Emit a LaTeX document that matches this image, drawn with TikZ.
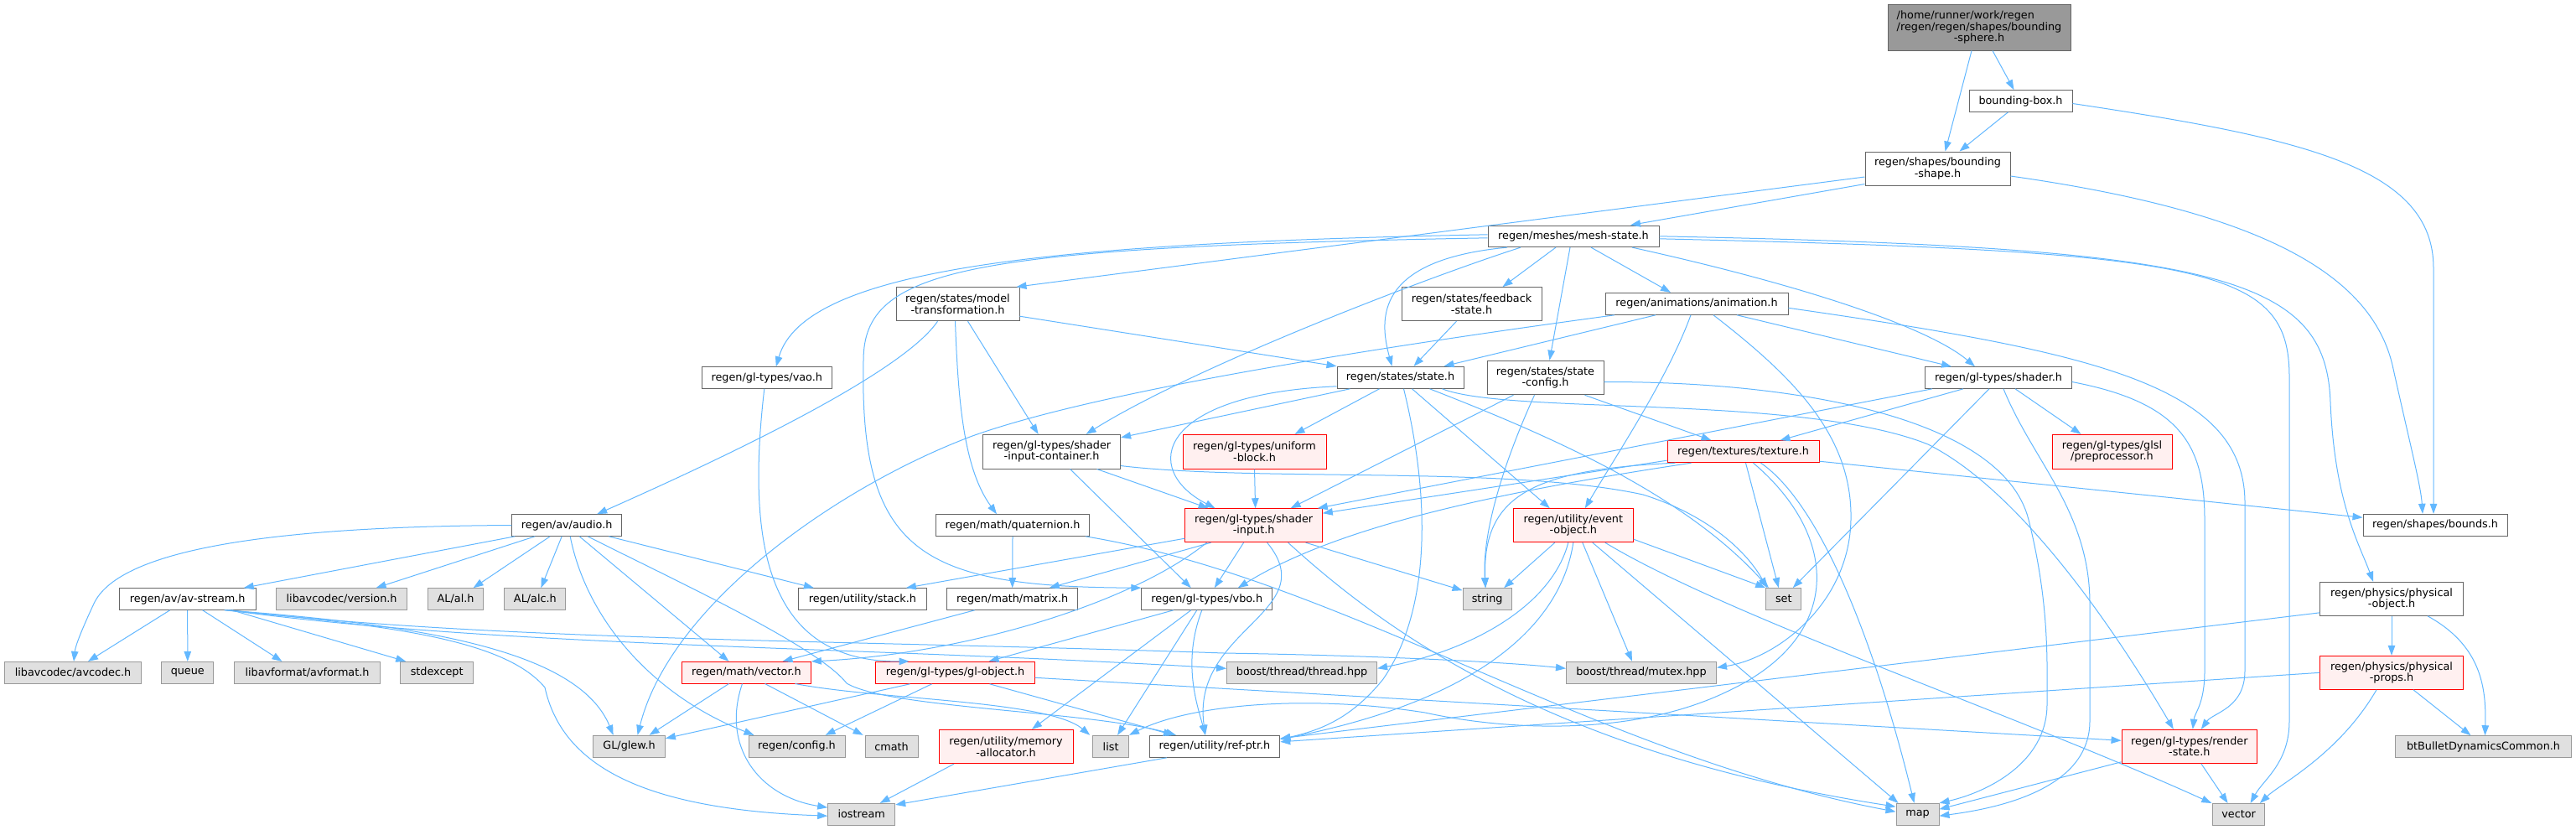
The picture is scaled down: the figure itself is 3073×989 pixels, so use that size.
\documentclass[tikz,border=0pt]{standalone}
\usepackage{fontspec}
\setmainfont{DejaVu Sans}
\usetikzlibrary{arrows.meta}
\definecolor{edgec}{HTML}{63B8FF}
\definecolor{wbord}{HTML}{666666}
\definecolor{gbord}{HTML}{999999}
\definecolor{gfill}{HTML}{E0E0E0}
\definecolor{rfill}{HTML}{FFF0F0}
\definecolor{rbord}{HTML}{FF0000}
\definecolor{rootfill}{HTML}{999999}
\tikzset{
 nd/.style={draw, rectangle, inner sep=0pt, align=center, line width=1pt, text=black},
 wn/.style={nd, draw=wbord, fill=white},
 gn/.style={nd, draw=gbord, fill=gfill},
 rn/.style={nd, draw=rbord, fill=rfill},
 rootn/.style={nd, draw=wbord, fill=rootfill},
 edg/.style={draw=edgec, line width=1pt, -{Triangle[length=12pt,width=8.5pt]}},
}
\begin{document}
\begin{tikzpicture}[x=1pt,y=-1pt,font=\fontsize{12.8}{13.5}\selectfont]
\fill[white] (0,0) rectangle (3073,989);
\useasboundingbox (0,0) rectangle (3073,989);
% ---------- nodes ----------
\node[rootn,minimum width=218pt,minimum height=55pt] (root) at (2361,32.5) {\rlap{/home/runner/work/regen}\phantom{/regen/regen/shapes/bounding}\\/regen/regen/shapes/bounding\\-sphere.h};
\node[wn,minimum width=123pt,minimum height=25.6pt] (bbox) at (2410.5,120.5) {bounding-box.h};
\node[wn,minimum width=173pt,minimum height=40pt] (bshape) at (2311.5,201) {regen/shapes/bounding\\-shape.h};
\node[wn,minimum width=204pt,minimum height=25.6pt] (meshstate) at (1877,281.8) {regen/meshes/mesh-state.h};
\node[wn,minimum width=147pt,minimum height=40pt] (modeltf) at (1142.5,362.7) {regen/states/model\\-transformation.h};
\node[wn,minimum width=167pt,minimum height=40pt] (feedback) at (1755.5,362.7) {regen/states/feedback\\-state.h};
\node[wn,minimum width=218pt,minimum height=26pt] (anim) at (2024,362.3) {regen/animations/animation.h};
\node[wn,minimum width=151pt,minimum height=26pt] (state) at (1670.5,450.3) {regen/states/state.h};
\node[wn,minimum width=139pt,minimum height=40.5pt] (stateconfig) at (1843.5,450.5) {regen/states/state\\-config.h};
\node[wn,minimum width=174.5pt,minimum height=25.6pt] (shader) at (2384,450.5) {regen/gl-types/shader.h};
\node[wn,minimum width=155.6pt,minimum height=25.6pt] (vao) at (914.8,450.5) {regen/gl-types/vao.h};
\node[wn,minimum width=164pt,minimum height=40.7pt] (sic) at (1254.6,538.7) {regen/gl-types/shader\\-input-container.h};
\node[rn,minimum width=171pt,minimum height=40.7pt] (ublock) at (1496.5,538.7) {regen/gl-types/uniform\\-block.h};
\node[rn,minimum width=181pt,minimum height=26pt] (texture) at (2079.5,538.7) {regen/textures/texture.h};
\node[rn,minimum width=143pt,minimum height=40.7pt] (glsl) at (2519.5,538.7) {regen/gl-types/glsl\\/preprocessor.h};
\node[wn,minimum width=172pt,minimum height=26pt] (bounds) at (2905,626.3) {regen/shapes/bounds.h};
\node[wn,minimum width=130.5pt,minimum height=25.6pt] (audio) at (676.2,626.5) {regen/av/audio.h};
\node[wn,minimum width=183pt,minimum height=25.6pt] (quat) at (1208,626.5) {regen/math/quaternion.h};
\node[rn,minimum width=163.4pt,minimum height=40pt] (sinput) at (1495.6,626.7) {regen/gl-types/shader\\-input.h};
\node[rn,minimum width=143pt,minimum height=40pt] (eventobj) at (1876.8,626.7) {regen/utility/event\\-object.h};
\node[wn,minimum width=162.6pt,minimum height=25.6pt] (avstream) at (223.7,714.5) {regen/av/av-stream.h};
\node[gn,minimum width=155.7pt,minimum height=25.6pt] (avver) at (407.6,714.5) {libavcodec/version.h};
\node[gn,minimum width=66pt,minimum height=25.6pt] (al) at (543.6,714.5) {AL/al.h};
\node[gn,minimum width=73pt,minimum height=25.6pt] (alc) at (638.4,714.5) {AL/alc.h};
\node[wn,minimum width=152.6pt,minimum height=25.6pt] (stack) at (1028.9,714.5) {regen/utility/stack.h};
\node[wn,minimum width=155.7pt,minimum height=25.6pt] (matrix) at (1207.7,714.5) {regen/math/matrix.h};
\node[wn,minimum width=155.7pt,minimum height=25.6pt] (vbo) at (1439.8,714.5) {regen/gl-types/vbo.h};
\node[gn,minimum width=58.2pt,minimum height=25.6pt] (string) at (1774.1,714.5) {string};
\node[gn,minimum width=42.3pt,minimum height=25.6pt] (set) at (2127.8,714.4) {set};
\node[wn,minimum width=170.4pt,minimum height=40pt] (physobj) at (2853,714.3) {regen/physics/physical\\-object.h};
\node[rn,minimum width=170.4pt,minimum height=40pt] (physprops) at (2853,802.3) {regen/physics/physical\\-props.h};
\node[gn,minimum width=179pt,minimum height=26pt] (thread) at (1553.1,802.3) {boost/thread/thread.hpp};
\node[gn,minimum width=179pt,minimum height=26pt] (mutex) at (1958,802.3) {boost/thread/mutex.hpp};
\node[gn,minimum width=162.8pt,minimum height=25.6pt] (libavcodec) at (87,802.2) {libavcodec/avcodec.h};
\node[gn,minimum width=61.7pt,minimum height=25.6pt] (queue) at (223.8,802.2) {queue};
\node[gn,minimum width=174.7pt,minimum height=25.6pt] (avformat) at (366.5,802.2) {libavformat/avformat.h};
\node[gn,minimum width=87pt,minimum height=25.6pt] (stdexcept) at (521.2,802.2) {stdexcept};
\node[rn,minimum width=153.7pt,minimum height=25.6pt] (mvector) at (890.5,802.2) {regen/math/vector.h};
\node[rn,minimum width=189.3pt,minimum height=26pt] (globj) at (1139.6,802.3) {regen/gl-types/gl-object.h};
\node[gn,minimum width=85.6pt,minimum height=26pt] (glew) at (750.6,890.3) {GL/glew.h};
\node[gn,minimum width=115pt,minimum height=26pt] (config) at (950.5,890.3) {regen/config.h};
\node[gn,minimum width=63pt,minimum height=26pt] (cmath) at (1063.6,890.3) {cmath};
\node[rn,minimum width=160pt,minimum height=40.4pt] (memalloc) at (1200,890.5) {regen/utility/memory\\-allocator.h};
\node[gn,minimum width=42.8pt,minimum height=26pt] (list) at (1325.1,890.3) {list};
\node[wn,minimum width=155.8pt,minimum height=26pt] (refptr) at (1448.9,890.3) {regen/utility/ref-ptr.h};
\node[rn,minimum width=161.5pt,minimum height=40pt] (render) at (2611.8,890.3) {regen/gl-types/render\\-state.h};
\node[gn,minimum width=210pt,minimum height=25.6pt] (bullet) at (2962.5,890.5) {btBulletDynamicsCommon.h};
\node[gn,minimum width=80pt,minimum height=25.6pt] (iostream) at (1027.7,971.2) {iostream};
\node[gn,minimum width=51pt,minimum height=25.6pt] (map) at (2287.5,971.2) {map};
\node[gn,minimum width=61.6pt,minimum height=25.6pt] (vector) at (2670.6,971.3) {vector};
% ---------- edges ----------
% root, bounding box, bounding shape
\draw[edg] ([xshift=-9pt]root.south) -- ([xshift=9pt]bshape.north);
\draw[edg] ([xshift=16pt]root.south) -- ([xshift=-8pt]bbox.north);
\draw[edg] ([xshift=-15pt]bbox.south) -- ([xshift=26pt]bshape.north);
\draw[edg] ([yshift=-3pt]bbox.east) .. controls (2750,165) and (2903,200) .. (2903,320) -- ([xshift=-2pt]bounds.north);
\draw[edg] ([yshift=-9pt]bshape.east) .. controls (2680,250) and (2830,320) .. (2855,440) .. controls (2875,530) and (2888,580) .. ([xshift=-15pt]bounds.north);
\draw[edg] ([yshift=2pt]bshape.south west) -- ([xshift=68pt]meshstate.north);
\draw[edg] ([yshift=-10pt]bshape.west) -- ([xshift=-4pt]modeltf.north east);
% mesh-state
\draw[edg] ([yshift=2pt]meshstate.west) .. controls (1250,290) and (960,320) .. ([xshift=11pt]vao.north);
\draw[edg] ([yshift=-2pt]meshstate.west) .. controls (1150,295) and (1030,320) .. (1030,430) .. controls (1025,660) and (1100,700) .. (vbo.north west);
\draw[edg] ([xshift=-63pt]meshstate.south) .. controls (1690,335) and (1420,440) .. ([xshift=41pt]sic.north);
\draw[edg] ([xshift=-79pt]meshstate.south) .. controls (1640,310) and (1645,380) .. ([xshift=-10pt]state.north);
\draw[edg] ([xshift=-21pt]meshstate.south) -- ([xshift=37pt]feedback.north);
\draw[edg] ([xshift=-4pt]meshstate.south) -- ([xshift=5pt]stateconfig.north);
\draw[edg] ([xshift=21pt]meshstate.south) -- ([xshift=-31pt]anim.north);
\draw[edg] ([xshift=70pt]meshstate.south) .. controls (2150,340) and (2300,390) .. ([xshift=-28pt]shader.north);
\draw[edg] (meshstate.east) .. controls (2650,295) and (2775,330) .. (2780,480) .. controls (2785,600) and (2815,650) .. ([xshift=-22pt]physobj.north);
\draw[edg] ([yshift=-3pt]meshstate.east) .. controls (2640,300) and (2731,320) .. (2731,450) -- (2731,860) .. controls (2731,910) and (2700,930) .. ([xshift=14pt]vector.north);
% model-transformation
\draw[edg] ([yshift=6pt]modeltf.south east) -- (state.north west);
\draw[edg] ([xshift=12pt]modeltf.south) -- ([xshift=-16pt]sic.north);
\draw[edg] ([xshift=-3pt]modeltf.south) .. controls (1143,480) and (1150,560) .. ([xshift=-19pt]quat.north);
\draw[edg] ([xshift=-24pt]modeltf.south) .. controls (1080,440) and (900,530) .. ([xshift=36pt]audio.north);
% feedback
\draw[edg] ([xshift=-18pt]feedback.south) -- ([xshift=16pt]state.north);
% animation
\draw[edg] ([xshift=-49pt]anim.south) -- ([xshift=52pt]state.north);
\draw[edg] ([xshift=48pt]anim.south) -- ([xshift=-56pt]shader.north);
\draw[edg] ([xshift=-7pt]anim.south) .. controls (1990,450) and (1930,540) .. ([xshift=14pt]eventobj.north);
\draw[edg] ([xshift=20pt]anim.south) .. controls (2140,450) and (2210,520) .. (2208,620) .. controls (2206,720) and (2120,785) .. ([yshift=6pt]mutex.east);
\draw[edg] ([yshift=-5pt]anim.east) .. controls (2500,420) and (2678,460) .. (2678,600) -- (2678,800) .. controls (2678,845) and (2640,850) .. ([xshift=14pt]render.north);
\draw[edg] ([xshift=-98pt]anim.south) .. controls (1600,420) and (1300,470) .. (1160,520) .. controls (1000,580) and (800,720) .. ([xshift=10pt]glew.north);
% state
\draw[edg] ([yshift=3pt]state.south west) .. controls (1380,470) and (1360,560) .. ([xshift=-46pt]sinput.north);
\draw[edg] ([xshift=-60pt]state.south) -- ([yshift=-4pt]sic.north east);
\draw[edg] ([xshift=-25pt]state.south) -- ([xshift=48pt]ublock.north);
\draw[edg] ([xshift=4pt]state.south) .. controls (1708,600) and (1705,730) .. (1650,810) .. controls (1610,860) and (1570,872) .. ([yshift=-5pt]refptr.north east);
\draw[edg] ([xshift=14pt]state.south) -- ([xshift=-28pt]eventobj.north);
\draw[edg] ([xshift=35pt]state.south) .. controls (1850,520) and (2010,590) .. ([xshift=-18pt]set.north);
\draw[edg] ([xshift=50pt]state.south) .. controls (1800,495) and (2150,470) .. (2300,530) .. controls (2420,590) and (2540,780) .. ([xshift=-19pt]render.north);
% state-config
\draw[edg] ([xshift=-38pt]stateconfig.south) -- ([xshift=44pt]sinput.north);
\draw[edg] ([xshift=-13pt]stateconfig.south) .. controls (1790,560) and (1768,640) .. ([xshift=-2pt]string.north);
\draw[edg] ([xshift=47pt]stateconfig.south) -- ([xshift=-38pt]texture.north);
\draw[edg] ([yshift=-5pt]stateconfig.east) .. controls (2150,455) and (2390,500) .. (2420,620) .. controls (2445,720) and (2442,790) .. (2442,840) .. controls (2442,910) and (2370,945) .. (map.north east);
% shader
\draw[edg] ([xshift=-79pt]shader.south) -- ([xshift=-6pt]sinput.north east);
\draw[edg] ([xshift=-42pt]shader.south) -- ([xshift=44pt]texture.north);
\draw[edg] ([xshift=-11pt]shader.south) -- ([xshift=11pt]set.north);
\draw[edg] ([xshift=6pt]shader.south) .. controls (2425,550) and (2493,610) .. (2493,720) -- (2493,860) .. controls (2493,935) and (2400,962) .. ([yshift=-2pt]map.east);
\draw[edg] ([xshift=20pt]shader.south) -- ([xshift=-37pt]glsl.north);
\draw[edg] ([yshift=-5pt]shader.east) .. controls (2600,480) and (2630,530) .. (2630,620) -- (2630,800) .. controls (2630,840) and (2618,850) .. ([xshift=4pt]render.north);
% shader-input-container
\draw[edg] ([xshift=54pt]sic.south) -- ([xshift=-54pt]sinput.north);
\draw[edg] ([xshift=22pt]sic.south) -- ([xshift=-19pt]vbo.north);
\draw[edg] ([yshift=4pt]sic.south east) .. controls (1500,575) and (1800,555) .. (1960,590) .. controls (2040,615) and (2085,660) .. ([xshift=-20pt]set.north);
% uniform block
\draw[edg] (ublock.south) -- ([xshift=2pt]sinput.north);
% texture
\draw[edg] ([yshift=3pt]texture.south west) -- ([yshift=-6pt]sinput.north east);
\draw[edg] ([xshift=-62pt]texture.south) .. controls (1800,585) and (1600,625) .. ([xshift=37pt]vbo.north);
\draw[edg] ([xshift=10pt]texture.south west) .. controls (1830,560) and (1768,590) .. ([xshift=-2pt]string.north);
\draw[edg] ([xshift=3pt]texture.south) -- ([xshift=-6pt]set.north);
\draw[edg] ([yshift=2pt]texture.south east) -- ([yshift=9pt]bounds.west);
\draw[edg] ([xshift=21pt]texture.south) .. controls (2170,600) and (2235,760) .. ([xshift=-4pt]map.north);
\draw[edg] ([xshift=12pt]texture.south) .. controls (2195,640) and (2200,760) .. (2060,825) .. controls (1950,878) and (1800,872) .. (1700,850) .. controls (1560,828) and (1420,840) .. (list.north east);
% event-object
\draw[edg] ([xshift=-22pt]eventobj.south) -- ([xshift=20pt]string.north);
\draw[edg] ([xshift=-6pt]eventobj.south) .. controls (1852,720) and (1760,775) .. ([yshift=5pt]thread.east);
\draw[edg] (eventobj.south) .. controls (1862,745) and (1765,835) .. ([yshift=-5pt]refptr.north east);
\draw[edg] ([xshift=11pt]eventobj.south) -- ([xshift=-11pt]mutex.north);
\draw[edg] ([xshift=23pt]eventobj.south) -- ([xshift=-23pt]map.north);
\draw[edg] ([xshift=38pt]eventobj.south) .. controls (2060,735) and (2400,850) .. ([xshift=-1pt]vector.north west);
\draw[edg] ([yshift=4pt]eventobj.south east) -- (set.north west);
% shader-input
\draw[edg] ([yshift=5pt]sinput.south west) -- ([xshift=52pt]stack.north);
\draw[edg] ([xshift=-51pt]sinput.south) -- ([xshift=44pt]matrix.north);
\draw[edg] ([xshift=-56pt]sinput.south) .. controls (1350,720) and (1150,780) .. (mvector.north east);
\draw[edg] ([xshift=-12pt]sinput.south) -- ([xshift=9pt]vbo.north);
\draw[edg] ([xshift=16pt]sinput.south) .. controls (1580,730) and (1420,750) .. ([xshift=-11pt]refptr.north);
\draw[edg] ([xshift=41pt]sinput.south) .. controls (1660,760) and (1860,900) .. ([yshift=9pt]map.west);
\draw[edg] ([xshift=62pt]sinput.south) -- ([yshift=-3pt]string.north west);
% quaternion
\draw[edg] (quat.south) -- (matrix.north);
\draw[edg] ([xshift=-5pt]quat.south east) .. controls (1600,690) and (1900,900) .. ([yshift=3pt]map.west);
% vbo
\draw[edg] ([xshift=-40pt]vbo.south) -- ([xshift=40pt]globj.north);
\draw[edg] ([xshift=-19pt]vbo.south) -- ([xshift=31pt]memalloc.north);
\draw[edg] ([xshift=-12pt]vbo.south) -- ([xshift=8pt]list.north);
\draw[edg] ([xshift=-6pt]vbo.south) .. controls (1410,790) and (1428,840) .. ([xshift=-11pt]refptr.north);
% matrix
\draw[edg] ([xshift=-45pt]matrix.south) -- ([xshift=43pt]mvector.north);
% audio
\draw[edg] (audio.west) .. controls (300,628) and (140,660) .. (112,720) .. controls (98,750) and (90,770) .. ([xshift=1pt]libavcodec.north);
\draw[edg] ([xshift=-62pt]audio.south) -- ([xshift=67pt]avstream.north);
\draw[edg] ([xshift=-38pt]audio.south) -- ([xshift=41pt]avver.north);
\draw[edg] ([xshift=-20pt]audio.south) -- ([xshift=21pt]al.north);
\draw[edg] ([xshift=-6pt]audio.south) -- ([xshift=7pt]alc.north);
\draw[edg] ([xshift=4pt]audio.south) .. controls (700,740) and (780,830) .. ([xshift=7pt]config.north west);
\draw[edg] ([xshift=15pt]audio.south) -- ([xshift=-21pt]mvector.north);
\draw[edg] ([xshift=25pt]audio.south) .. controls (800,690) and (975,770) .. (1010,815) .. controls (1060,845) and (1300,848) .. ([xshift=-46pt]refptr.north);
\draw[edg] ([xshift=50pt]audio.south) -- ([xshift=-58pt]stack.north);
% av-stream
\draw[edg] ([xshift=-21pt]avstream.south) -- ([xshift=18pt]libavcodec.north);
\draw[edg] (avstream.south) -- (queue.north);
\draw[edg] ([xshift=18pt]avstream.south) -- ([xshift=-30pt]avformat.north);
\draw[edg] ([xshift=53pt]avstream.south) -- ([xshift=-37pt]stdexcept.north);
\draw[edg] ([xshift=45pt]avstream.south) .. controls (500,745) and (690,775) .. ([xshift=-19pt]glew.north);
\draw[edg] ([xshift=44pt]avstream.south) .. controls (450,745) and (600,760) .. (650,820) .. controls (670,910) and (760,965) .. ([yshift=-2pt]iostream.west);
\draw[edg] ([xshift=48pt]avstream.south) .. controls (600,772) and (1000,770) .. ([yshift=5pt]thread.west);
\draw[edg] ([xshift=50pt]avstream.south) .. controls (600,765) and (1000,763) .. (1460,779) .. controls (1650,782) and (1800,790) .. ([yshift=5pt]mutex.west);
% math vector
\draw[edg] ([xshift=-21pt]mvector.south) -- ([xshift=24pt]glew.north);
\draw[edg] ([xshift=-5pt]mvector.south) .. controls (860,890) and (905,950) .. ([yshift=8pt]iostream.west);
\draw[edg] ([xshift=22pt]mvector.south) -- ([xshift=-2pt]cmath.north west);
\draw[edg] ([xshift=58pt]mvector.south) .. controls (1050,835) and (1250,835) .. ([xshift=-3pt]list.north west);
% gl-object
\draw[edg] ([xshift=-54pt]globj.south) -- ([yshift=-4pt]glew.north east);
\draw[edg] ([xshift=-28pt]globj.south) -- ([xshift=34pt]config.north);
\draw[edg] ([xshift=41pt]globj.south) -- ([xshift=-49pt]refptr.north);
\draw[edg] ([yshift=-6pt]globj.east) -- ([yshift=7pt]render.west);
% vao
\draw[edg] ([xshift=-3pt]vao.south) .. controls (890,650) and (915,790) .. ([xshift=-55pt]globj.north);
% memory allocator, ref-ptr
\draw[edg] ([xshift=-62pt]memalloc.south) -- ([xshift=22pt]iostream.north);
\draw[edg] ([xshift=-57pt]refptr.south) -- ([yshift=-2pt]iostream.north east);
% physics
\draw[edg] (physobj.south) -- (physprops.north);
\draw[edg] ([xshift=43pt]physobj.south) .. controls (2960,770) and (2966,820) .. ([xshift=2pt]bullet.north);
\draw[edg] ([yshift=4pt]physobj.south west) -- ([yshift=-4pt]refptr.north east);
\draw[edg] ([xshift=26pt]physprops.south) -- ([xshift=-15pt]bullet.north);
\draw[edg] ([xshift=-18pt]physprops.south) .. controls (2790,900) and (2720,935) .. ([xshift=-6pt]vector.north east);
\draw[edg] (physprops.west) -- ([yshift=-8pt]refptr.north east);
% render state
\draw[edg] ([yshift=2pt]render.south west) -- ([yshift=6pt]map.east);
\draw[edg] ([xshift=14pt]render.south) -- ([xshift=-13pt]vector.north);
\end{tikzpicture}
\end{document}
